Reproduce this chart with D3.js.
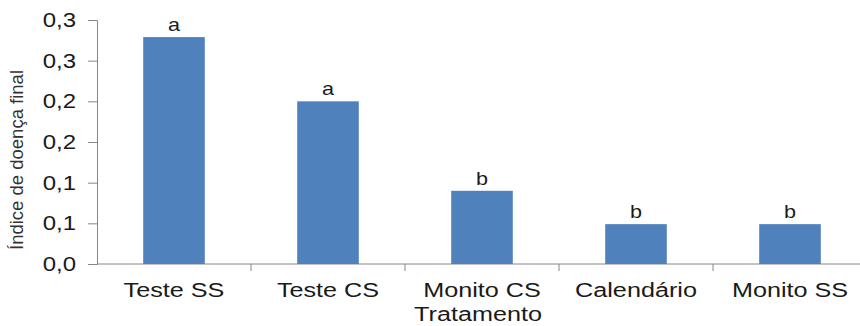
<!DOCTYPE html>
<html>
<head>
<meta charset="utf-8">
<script src="https://cdn.jsdelivr.net/npm/d3@7"></script>
<style>
  body { margin: 0; background: #fff; }
  svg { display: block; font-family: "Liberation Sans", Arial, sans-serif; }
</style>
</head>
<body>
<div id="chart"></div>
<script>
const categories = ['Teste SS', 'Teste CS', 'Monito CS', 'Calendário', 'Monito SS'];
const values = [0.279, 0.200, 0.090, 0.049, 0.049];
const letters = ['a', 'a', 'b', 'b', 'b'];
const tickValues = [0, 0.05, 0.10, 0.15, 0.20, 0.25, 0.30];
const tickLabels = ['0,0', '0,1', '0,1', '0,2', '0,2', '0,3', '0,3'];

const W = 860, H = 326;
const margin = { top: 20, right: -7, bottom: 62, left: 97 };
const width = W - margin.left - margin.right;
const height = H - margin.top - margin.bottom;
const stretch = 1.2; // the original picture is a bit wider than tall

const svg = d3.select('#chart').append('svg')
    .attr('width', W)
    .attr('height', H);

const g = svg.append('g')
    .attr('transform', `translate(${margin.left},${margin.top})`);

const x = d3.scaleBand()
    .domain(categories)
    .range([0, width])
    .padding(0);

const y = d3.scaleLinear()
    .domain([0, 0.3])
    .range([height, 0]);

const axisColor = '#868686';

// Y axis
const yAxis = g.append('g')
    .call(d3.axisLeft(y)
        .tickValues(tickValues)
        .tickFormat((d, i) => tickLabels[i])
        .tickSize(9));
yAxis.select('.domain').attr('stroke', axisColor);
yAxis.selectAll('.tick line').attr('stroke', axisColor);
yAxis.selectAll('.tick text')
    .attr('x', 0)
    .attr('transform', `translate(-21,0) scale(${stretch},1)`)
    .attr('fill', '#1a1a1a')
    .style('font-size', '20px');

// X axis with ticks at category boundaries
const xAxis = g.append('g')
    .attr('transform', `translate(0,${height})`);
xAxis.append('line')
    .attr('x1', 0).attr('x2', width)
    .attr('stroke', axisColor);
xAxis.selectAll('.bound')
    .data(categories.slice(1))
    .enter().append('line')
    .attr('x1', d => x(d)).attr('x2', d => x(d))
    .attr('y1', 0).attr('y2', 7)
    .attr('stroke', axisColor);
xAxis.selectAll('.cat')
    .data(categories)
    .enter().append('text')
    .attr('transform', d => `translate(${x(d) + x.bandwidth() / 2},33) scale(${stretch},1)`)
    .attr('text-anchor', 'middle')
    .attr('fill', '#1a1a1a')
    .style('font-size', '21px')
    .text(d => d);

// Bars
const barW = x.bandwidth() * 0.4;
g.selectAll('.bar')
    .data(categories)
    .enter().append('rect')
    .attr('x', d => x(d) + (x.bandwidth() - barW) / 2)
    .attr('y', (d, i) => y(values[i]))
    .attr('width', barW)
    .attr('height', (d, i) => height - y(values[i]))
    .attr('fill', '#4F81BD');

// Significance letters
g.selectAll('.letter')
    .data(categories)
    .enter().append('text')
    .attr('transform', (d, i) => `translate(${x(d) + x.bandwidth() / 2},${y(values[i]) - 6}) scale(${stretch},1)`)
    .attr('text-anchor', 'middle')
    .attr('fill', '#1a1a1a')
    .style('font-size', '18px')
    .text((d, i) => letters[i]);

// Axis titles
svg.append('text')
    .attr('transform', 'translate(23,160) rotate(-90)')
    .attr('text-anchor', 'middle')
    .attr('fill', '#333')
    .style('font-size', '18.5px')
    .text('Índice de doença final');

svg.append('text')
    .attr('transform', `translate(478,321) scale(${stretch},1)`)
    .attr('text-anchor', 'middle')
    .attr('fill', '#1a1a1a')
    .style('font-size', '21px')
    .text('Tratamento');
</script>
</body>
</html>
